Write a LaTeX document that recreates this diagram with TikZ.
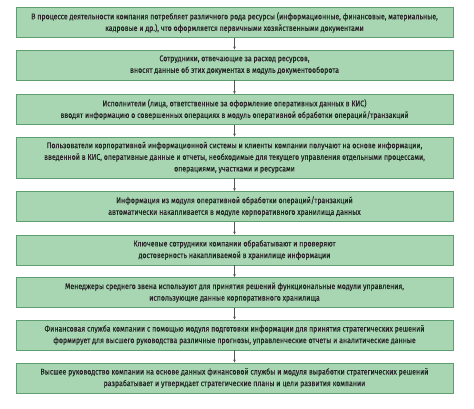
\documentclass[tikz,border=0pt]{standalone}
\usepackage{fontspec}
\setmainfont[FakeStretch=0.84,FakeBold=0.4]{Fira Sans}
\usetikzlibrary{arrows.meta}
\definecolor{boxfill}{HTML}{A8D6B3}
\definecolor{boxdraw}{HTML}{5E9E70}
\definecolor{txt}{HTML}{262626}
\definecolor{arr}{HTML}{555555}
\tikzset{
  stepbox/.style={draw=boxdraw, line width=0.9pt, fill=boxfill, minimum width=437pt,
    minimum height=30pt, inner sep=1pt, align=center, text=txt,
    font=\fontsize{8.3}{11.6}\selectfont},
  flow/.style={draw=arr, line width=0.6pt, -{Stealth[length=3pt,width=2.6pt]}}
}
\begin{document}
\begin{tikzpicture}[x=1pt,y=1pt]
\useasboundingbox (0,0) rectangle (474,-408);
\node[stepbox] (b1) at (234.5,-22.5) {В процессе деятельности компания потребляет различного рода ресурсы (информационные, финансовые, материальные,\\кадровые и др.), что оформляется первичными хозяйственными документами};
\node[stepbox] (b2) at (234.5,-65) {Сотрудники, отвечающие за расход ресурсов,\\вносят данные об этих документах в модуль документооборота};
\node[stepbox] (b3) at (234.5,-109.5) {Исполнители (лица, ответственные за оформление оперативных данных в КИС)\\вводят информацию о совершенных операциях в модуль оперативной обработки операций/транзакций};
\node[stepbox, minimum height=41pt] (b4) at (234.5,-157.5) {Пользователи корпоративной информационной системы и клиенты компании получают на основе информации,\\введенной в КИС, оперативные данные и отчеты, необходимые для текущего управления отдельными процессами,\\операциями, участками и ресурсами};
\node[stepbox] (b5) at (234.5,-206.5) {Информация из модуля оперативной обработки операций/транзакций\\автоматически накапливается в модуле корпоративного хранилища данных};
\node[stepbox] (b6) at (234.5,-250) {Ключевые сотрудники компании обрабатывают и проверяют\\достоверность накапливаемой в хранилище информации};
\node[stepbox] (b7) at (234.5,-292.5) {Менеджеры среднего звена используют для принятия решений функциональные модули управления,\\использующие данные корпоративного хранилища};
\node[stepbox] (b8) at (234.5,-335) {Финансовая служба компании с помощью модуля подготовки информации для принятия стратегических решений\\формирует для высшего руководства различные прогнозы, управленческие отчеты и аналитические данные};
\node[stepbox] (b9) at (234.5,-378) {Высшее руководство компании на основе данных финансовой службы и модуля выработки стратегических решений\\разрабатывает и утверждает стратегические планы и цели развития компании};
\foreach \a/\b in {b1/b2,b2/b3,b3/b4,b4/b5,b5/b6,b6/b7,b7/b8,b8/b9}
  \draw[flow] (\a.south) -- (\b.north);
\end{tikzpicture}
\end{document}
